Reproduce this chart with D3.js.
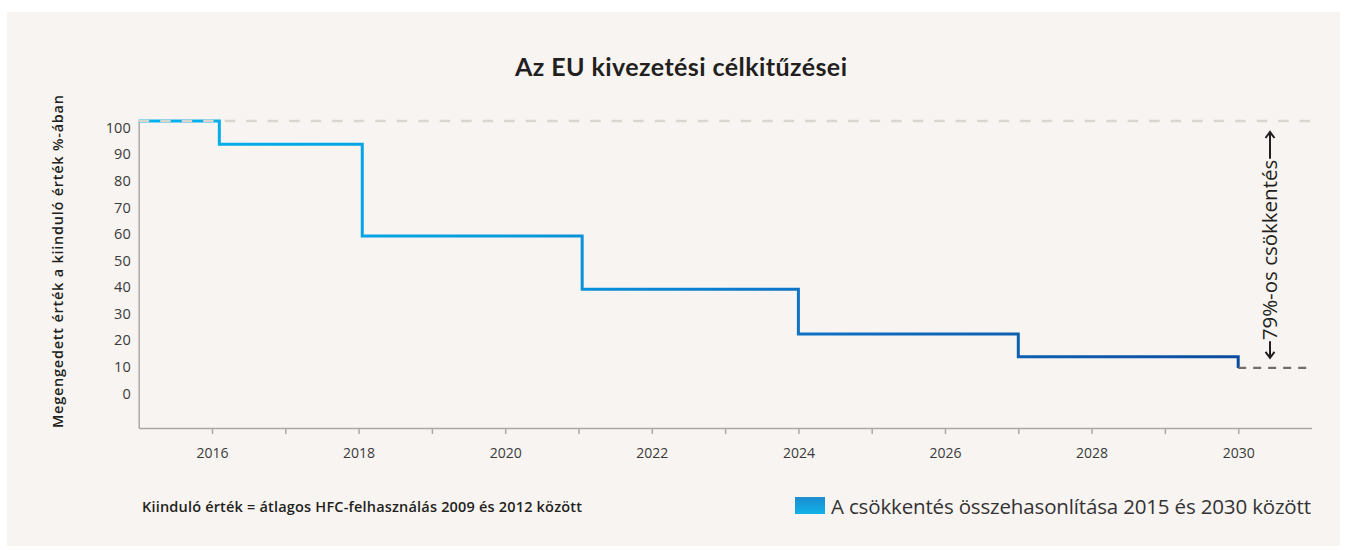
<!DOCTYPE html>
<html>
<head>
<meta charset="utf-8">
<script src="https://cdn.jsdelivr.net/npm/d3@7"></script>
<style>
  html, body { margin: 0; padding: 0; background: #ffffff; }
  svg { display: block; }
  text { font-family: "Open Sans", "Noto Sans", sans-serif; }
</style>
</head>
<body>
<svg id="chart" width="1347" height="550"></svg>
<script>
// Allowed HFC quantity as % of the baseline, stepping down over the phase-down period
const stepYears  = [2015, 2016.1, 2018.05, 2021.05, 2024, 2027, 2030];
const stepValues = [102.5, 93.8, 59.2, 39.2, 22.4, 13.8, 9.6];

// Baseline level and the 2030 target level (dashed guides)
const baselineYears  = [2015, 2031];
const baselineValues = [102.5, 102.5];
const targetYears  = [2030, 2031];
const targetValues = [9.6, 9.6];

// Axis ticks
const yTicks = [0, 10, 20, 30, 40, 50, 60, 70, 80, 90, 100];
const xTicks = [2016, 2017, 2018, 2019, 2020, 2021, 2022, 2023, 2024, 2025, 2026, 2027, 2028, 2029, 2030];

const titleText = "Az EU kivezetési célkitűzései";
const yTitle = "Megengedett érték a kiinduló érték %-ában";
const noteText = "Kiinduló érték = átlagos HFC-felhasználás 2009 és 2012 között";
const legendText = "A csökkentés összehasonlítása 2015 és 2030 között";
const reductionText = "79%-os csökkentés";

const svg = d3.select("#chart");

// Panel background
svg.append("rect")
  .attr("x", 7).attr("y", 12).attr("width", 1333).attr("height", 534)
  .attr("fill", "#f8f4f1");

const x = d3.scaleLinear().domain([2015, 2031]).range([138.7, 1311.5]);
const y = d3.scaleLinear().domain([-13, 102.5]).range([428, 121]);

// Gradients
const defs = svg.append("defs");
const lineGrad = defs.append("linearGradient")
  .attr("id", "lineGrad").attr("gradientUnits", "userSpaceOnUse")
  .attr("x1", x(2015)).attr("x2", x(2030)).attr("y1", 0).attr("y2", 0);
lineGrad.append("stop").attr("offset", 0).attr("stop-color", "#00b4ee");
lineGrad.append("stop").attr("offset", 0.35).attr("stop-color", "#089ade");
lineGrad.append("stop").attr("offset", 0.62).attr("stop-color", "#0f70c3");
lineGrad.append("stop").attr("offset", 1).attr("stop-color", "#0c4c9e");

const legGrad = defs.append("linearGradient")
  .attr("id", "legGrad").attr("x1", 0).attr("x2", 0).attr("y1", 0).attr("y2", 1);
legGrad.append("stop").attr("offset", 0).attr("stop-color", "#1d8cd0");
legGrad.append("stop").attr("offset", 1).attr("stop-color", "#0fb2e8");

// Title
svg.append("text")
  .attr("x", 515).attr("y", 76)
  .attr("textLength", 332).attr("lengthAdjust", "spacing")
  .style("font-family", "Lato, 'Open Sans', sans-serif")
  .style("font-weight", 700).style("font-size", "25px")
  .attr("fill", "#231f20")
  .text(titleText);

// Y axis
const yAxis = d3.axisLeft(y).tickValues(yTicks).tickSize(0).tickSizeOuter(0).tickPadding(8);
const gy = svg.append("g").attr("transform", `translate(${x(2015)},0)`).call(yAxis);
gy.select(".domain").attr("stroke", "#a9a9a9").attr("stroke-width", 1.5);
gy.selectAll("text").style("font-size", "14.5px").attr("fill", "#3a3a3a");

// X axis
const xAxis = d3.axisBottom(x).tickValues(xTicks).tickSize(6).tickSizeOuter(0).tickPadding(14)
  .tickFormat(d => d % 2 === 0 ? String(d) : "");
const gx = svg.append("g").attr("transform", `translate(0,${y(-13)})`).call(xAxis);
gx.select(".domain").attr("stroke", "#a9a9a9").attr("stroke-width", 1.5);
gx.selectAll(".tick line").attr("stroke", "#a9a9a9").attr("stroke-width", 1.5);
gx.selectAll("text").style("font-size", "14px").attr("fill", "#3a3a3a");

// Y axis title
svg.append("text")
  .attr("transform", "translate(63,428) rotate(-90)")
  .attr("textLength", 333).attr("lengthAdjust", "spacing")
  .style("font-weight", 600).style("font-size", "14.5px")
  .attr("fill", "#231f20")
  .text(yTitle);

// Step line
const stepPts = stepYears.map((yr, i) => [yr, stepValues[i]]);
const line = d3.line().x(d => x(d[0])).y(d => y(d[1])).curve(d3.curveStepAfter);
svg.append("path")
  .datum(stepPts)
  .attr("d", line)
  .attr("fill", "none")
  .attr("stroke", "url(#lineGrad)")
  .attr("stroke-width", 3);

// Baseline dashed guide (drawn over the first segment)
const plain = d3.line().x(d => x(d[0])).y(d => y(d[1]));
svg.append("path")
  .datum(baselineYears.map((yr, i) => [yr, baselineValues[i]]))
  .attr("d", plain)
  .attr("fill", "none")
  .attr("stroke", "#d9d5cf")
  .attr("stroke-width", 2.5)
  .attr("stroke-dasharray", "10.5 11");

// Target dashed guide
svg.append("path")
  .datum(targetYears.map((yr, i) => [yr, targetValues[i]]))
  .attr("d", plain)
  .attr("fill", "none")
  .attr("stroke", "#6e6e6e")
  .attr("stroke-width", 2.2)
  .attr("stroke-dasharray", "8 7");

// Reduction annotation: vertical label between two arrows
const annX = 1270;
const topTip = y(baselineValues[0]) + 11;
const botTip = y(targetValues[0]) - 10;
const annMid = 250;
const ann = svg.append("text")
  .attr("transform", `translate(${annX + 7},${annMid}) rotate(-90)`)
  .attr("text-anchor", "middle")
  .style("font-size", "20.5px")
  .attr("fill", "#231f20")
  .text(reductionText);
const half = ann.node().getComputedTextLength() / 2;

const arrowG = svg.append("g").attr("stroke", "#231f20").attr("stroke-width", 2).attr("fill", "none");
arrowG.append("line").attr("x1", annX).attr("x2", annX).attr("y1", topTip).attr("y2", annMid - half - 1);
arrowG.append("path").attr("d", `M${annX - 4.5},${topTip + 6} L${annX},${topTip} L${annX + 4.5},${topTip + 6}`);
arrowG.append("line").attr("x1", annX).attr("x2", annX).attr("y1", annMid + half + 1).attr("y2", botTip);
arrowG.append("path").attr("d", `M${annX - 4.5},${botTip - 6} L${annX},${botTip} L${annX + 4.5},${botTip - 6}`);

// Footnote
svg.append("text")
  .attr("x", 142).attr("y", 512)
  .attr("textLength", 440).attr("lengthAdjust", "spacing")
  .style("font-weight", 600).style("font-size", "14.5px")
  .attr("fill", "#231f20")
  .text(noteText);

// Legend
svg.append("rect")
  .attr("x", 795).attr("y", 497).attr("width", 30).attr("height", 17)
  .attr("fill", "url(#legGrad)");
svg.append("text")
  .attr("x", 831).attr("y", 514)
  .attr("textLength", 480).attr("lengthAdjust", "spacing")
  .style("font-size", "20.5px")
  .attr("fill", "#333333")
  .text(legendText);
</script>
</body>
</html>
